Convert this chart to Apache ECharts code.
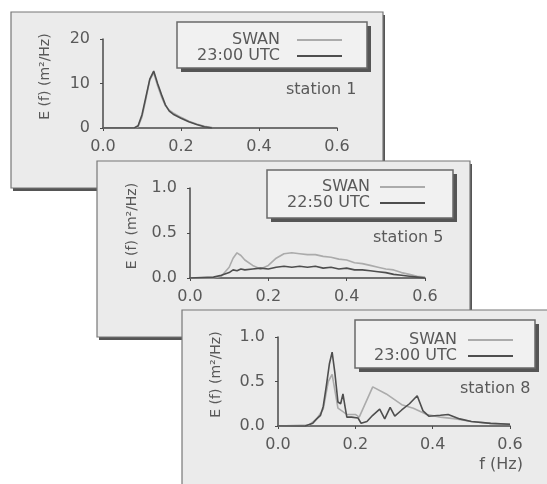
<!DOCTYPE html>
<html><head><meta charset="utf-8">
<script src="https://cdn.jsdelivr.net/npm/echarts@6/dist/echarts.min.js"></script>
<style>html,body{margin:0;padding:0;background:#fff}#c{width:547px;height:484px}</style>
</head><body><div id="c"></div>
<script>
// ---- data ----
const xTickValues = [0, 0.2, 0.4, 0.6];
const stationLabels = ['station 1', 'station 5', 'station 8'];
const legendNames1 = ['SWAN', '23:00 UTC'];
const legendNames2 = ['SWAN', '22:50 UTC'];
const legendNames3 = ['SWAN', '23:00 UTC'];
const yAxisName = 'E (f) (m²/Hz)';
const xAxisName = 'f (Hz)';

// station 1
const freq1 = [0, 0.08, 0.09, 0.10, 0.11, 0.12, 0.13, 0.14, 0.15, 0.16, 0.17, 0.18, 0.20, 0.22, 0.24, 0.26, 0.28];
const swan1 = [0, 0, 0.3, 2.5, 6.5, 10.8, 12.4, 9.5, 7.0, 5.0, 4.0, 3.4, 2.4, 1.5, 0.9, 0.4, 0.1];
const obs1  = [0, 0, 0.5, 3.0, 7.0, 11.0, 12.8, 10.0, 7.5, 5.2, 3.8, 3.1, 2.2, 1.4, 0.8, 0.3, 0];

// station 5
const freq2 = [0.0, 0.06, 0.08, 0.10, 0.11, 0.12, 0.13, 0.14, 0.16, 0.18, 0.20, 0.22, 0.24, 0.26, 0.28, 0.30, 0.32, 0.34, 0.36, 0.38, 0.40, 0.42, 0.44, 0.46, 0.48, 0.50, 0.52, 0.54, 0.56, 0.58, 0.60];
const swan2 = [0, 0, 0.02, 0.12, 0.22, 0.28, 0.25, 0.20, 0.14, 0.10, 0.14, 0.22, 0.27, 0.28, 0.27, 0.26, 0.26, 0.24, 0.23, 0.21, 0.20, 0.17, 0.16, 0.14, 0.12, 0.10, 0.09, 0.06, 0.04, 0.02, 0.01];
const obs2  = [0, 0.01, 0.03, 0.06, 0.09, 0.08, 0.10, 0.09, 0.10, 0.11, 0.10, 0.12, 0.13, 0.12, 0.13, 0.12, 0.13, 0.11, 0.12, 0.10, 0.11, 0.09, 0.09, 0.08, 0.07, 0.06, 0.04, 0.03, 0.02, 0.01, 0];

// station 8
const freqSwan3 = [0, 0.08, 0.10, 0.117, 0.13, 0.14, 0.155, 0.178, 0.20, 0.21, 0.245, 0.28, 0.32, 0.35, 0.385, 0.42, 0.46, 0.50, 0.55, 0.60];
const swan3     = [0, 0.01, 0.08, 0.19, 0.50, 0.58, 0.20, 0.13, 0.13, 0.10, 0.44, 0.36, 0.24, 0.20, 0.13, 0.10, 0.08, 0.05, 0.03, 0.02];
const freqObs3 = [0, 0.07, 0.09, 0.10, 0.11, 0.117, 0.125, 0.133, 0.14, 0.147, 0.155, 0.162, 0.168, 0.174, 0.178, 0.19, 0.207, 0.215, 0.23, 0.245, 0.263, 0.276, 0.29, 0.302, 0.32, 0.34, 0.36, 0.375, 0.39, 0.42, 0.44, 0.47, 0.50, 0.55, 0.60];
const obs3     = [0, 0, 0.03, 0.08, 0.12, 0.22, 0.45, 0.70, 0.83, 0.60, 0.27, 0.25, 0.36, 0.20, 0.10, 0.10, 0.09, 0.03, 0.05, 0.12, 0.19, 0.08, 0.21, 0.11, 0.18, 0.25, 0.34, 0.17, 0.11, 0.12, 0.13, 0.08, 0.05, 0.03, 0.02];

// ---- styles ----
const FONT = 'DejaVu Sans';
const TXT = '#595959';
const AXIS = '#4a4a4a';
const SWAN_C = '#ababab';
const OBS_C = '#4e4e4e';
const PANEL_BG = '#ebebeb';

const pairs = (xs, ys) => xs.map((x, i) => [x, ys[i]]);

const panels = [
  { box: [11, 12, 372, 176], grid: { left: 103, top: 39, width: 234, height: 89 }, ymax: 20, yint: 10, yfmt: v => String(v),
    nameGap: 51, legBox: [177, 22, 190, 46], legPos: [190, 32], legPad: 12, title: [286, 82],
    legend: legendNames1, series: [[freq1, swan1, 'SWAN', SWAN_C], [freq1, obs1, '23:00 UTC', OBS_C]] },
  { box: [97, 161, 373, 176], grid: { left: 190, top: 188, width: 235, height: 90 }, ymax: 1, yint: 0.5, yfmt: v => v.toFixed(1),
    nameGap: 51, legBox: [267, 170, 186, 48], legPos: [280, 179], legPad: 5, title: [373, 230],
    legend: legendNames2, series: [[freq2, swan2, 'SWAN', SWAN_C], [freq2, obs2, '22:50 UTC', OBS_C]] },
  { box: [182, 310, 372, 180], grid: { left: 278, top: 337, width: 232, height: 89 }, ymax: 1, yint: 0.5, yfmt: v => v.toFixed(1),
    nameGap: 55, legBox: [355, 320, 180, 48], legPos: [367, 332], legPad: 6, title: [460, 381],
    legend: legendNames3, series: [[freqSwan3, swan3, 'SWAN', SWAN_C], [freqObs3, obs3, '23:00 UTC', OBS_C]], xName: xAxisName }
];

const grid = [], xAxis = [], yAxis = [], series = [], legend = [], title = [], graphic = [];
panels.forEach((p, i) => {
  const base = i * 10;
  // panel drop shadow + panel
  graphic.push({ type: 'rect', z: base + 1, shape: { x: p.box[0] + 2, y: p.box[1] + 3, width: p.box[2], height: p.box[3] },
    style: { fill: '#555' } });
  graphic.push({ type: 'rect', z: base + 1, z2: 1, shape: { x: p.box[0], y: p.box[1], width: p.box[2], height: p.box[3] },
    style: { fill: PANEL_BG, stroke: '#777', lineWidth: 1.2 } });
  // legend box shadow + box
  graphic.push({ type: 'rect', z: base + 2, shape: { x: p.legBox[0] + 4, y: p.legBox[1] + 4, width: p.legBox[2], height: p.legBox[3] },
    style: { fill: '#555' } });
  graphic.push({ type: 'rect', z: base + 2, z2: 1, shape: { x: p.legBox[0], y: p.legBox[1], width: p.legBox[2], height: p.legBox[3] },
    style: { fill: '#f1f1f1', stroke: '#6a6a6a', lineWidth: 1.5 } });
  grid.push(Object.assign({ outerBoundsMode: 'none', containLabel: false }, p.grid));
  xAxis.push({
    type: 'value', gridIndex: i, min: xTickValues[0], max: xTickValues[xTickValues.length - 1], interval: 0.2, z: base + 3,
    splitLine: { show: false },
    axisLine: { lineStyle: { color: AXIS, width: 1.5 } },
    axisTick: { length: 3, lineStyle: { color: AXIS } },
    axisLabel: { margin: 11, color: TXT, fontSize: 16, fontFamily: FONT, formatter: v => v.toFixed(1) },
    name: p.xName || '', nameLocation: 'end', nameGap: 13,
    nameTextStyle: { color: TXT, fontSize: 16, fontFamily: FONT, align: 'right', verticalAlign: 'top', padding: [31, 0, 0, 0] }
  });
  yAxis.push({
    type: 'value', gridIndex: i, min: 0, max: p.ymax, interval: p.yint, z: base + 3,
    splitLine: { show: false },
    axisLine: { show: true, lineStyle: { color: AXIS, width: 1.5 } },
    axisTick: { show: true, length: 3, lineStyle: { color: AXIS } },
    axisLabel: { margin: 13, color: TXT, fontSize: 16, fontFamily: FONT, formatter: p.yfmt },
    name: yAxisName, nameLocation: 'middle', nameGap: p.nameGap,
    nameTextStyle: { color: TXT, fontSize: 14, fontFamily: FONT, padding: [0, 0, 0, 14] }
  });
  p.series.forEach(s => {
    series.push({ type: 'line', name: s[2], xAxisIndex: i, yAxisIndex: i, data: pairs(s[0], s[1]), symbol: 'none', z: base + 4,
      lineStyle: { color: s[3], width: 1.6 }, itemStyle: { color: s[3] } });
  });
  legend.push({
    data: p.legend, orient: 'vertical', left: p.legPos[0], top: p.legPos[1], padding: 0, itemGap: 0, z: base + 5,
    align: 'right', itemWidth: 45, itemHeight: 10, selectedMode: false,
    itemStyle: { opacity: 0, borderWidth: 0 },
    formatter: '{a|{name}}{b| }',
    textStyle: { color: TXT, fontFamily: FONT, fontSize: 16,
      rich: { a: { width: 90, align: 'right', fontSize: 16, lineHeight: 16, color: TXT, fontFamily: FONT },
              b: { width: p.legPad, fontSize: 16, lineHeight: 16 } } }
  });
  title.push({ text: stationLabels[i], left: p.title[0], top: p.title[1], padding: 0, z: base + 5,
    textStyle: { color: TXT, fontSize: 16, fontWeight: 'normal', fontFamily: FONT } });
});

const chart = echarts.init(document.getElementById('c'));
chart.setOption({ animation: false, backgroundColor: '#fff', graphic, grid, xAxis, yAxis, series, legend, title });
</script></body></html>
